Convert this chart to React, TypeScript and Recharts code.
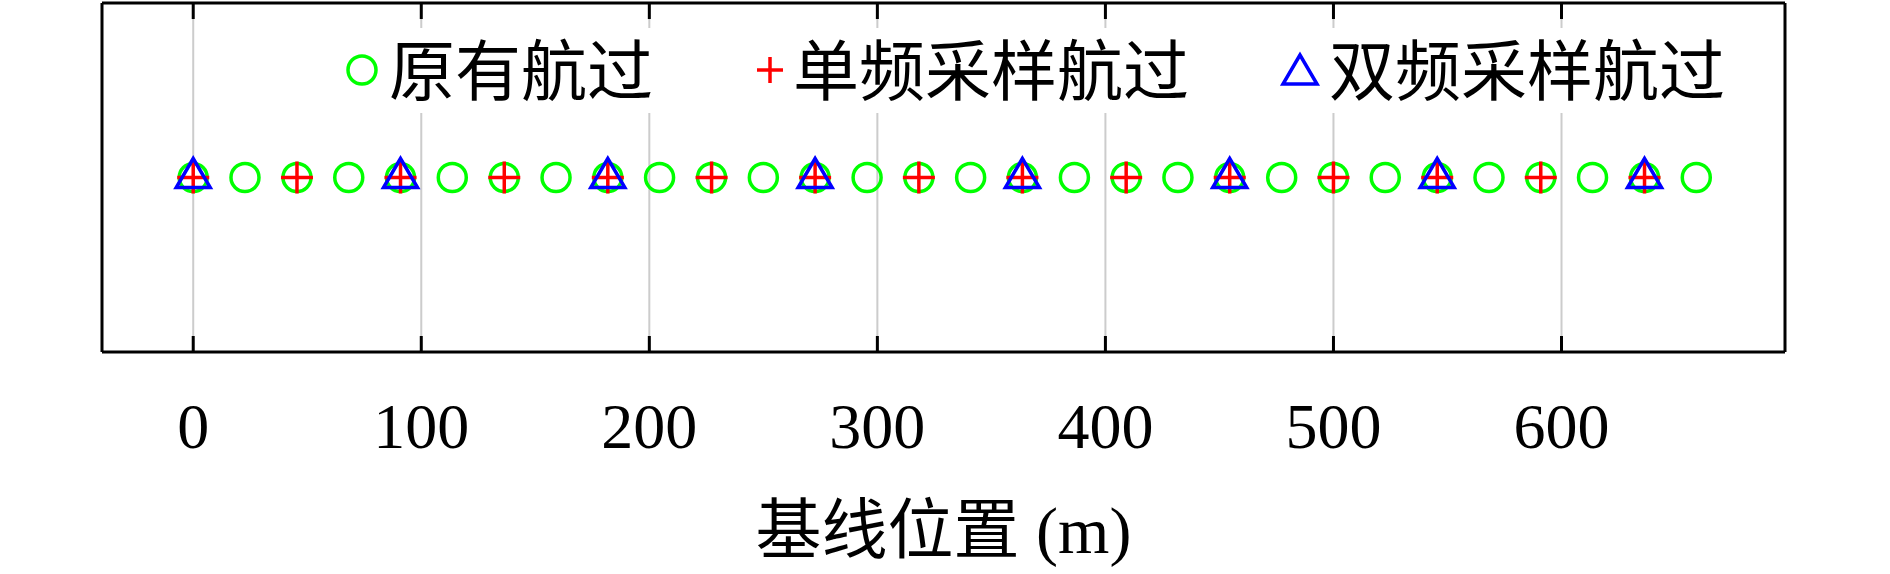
import { ScatterChart, Scatter, XAxis, YAxis, CartesianGrid, Legend } from 'recharts';

// 航过位置 (m)
const originalX = [0, 22.7, 45.5, 68.2, 90.9, 113.6, 136.4, 159.1, 181.8, 204.5, 227.3, 250.0, 272.7, 295.5, 318.2, 340.9, 363.6, 386.4, 409.1, 431.8, 454.5, 477.3, 500.0, 522.7, 545.5, 568.2, 590.9, 613.6, 636.4, 659.1];
const singleX = [0, 45.5, 90.9, 136.4, 181.8, 227.3, 272.7, 318.2, 363.6, 409.1, 454.5, 500.0, 545.5, 590.9, 636.4];
const dualX = [0, 90.9, 181.8, 272.7, 363.6, 454.5, 545.5, 636.4];
const baselineY = 0;

const xTicks = [0, 100, 200, 300, 400, 500, 600];
const seriesNames = ['原有航过', '单频采样航过', '双频采样航过'];
const axisTitle = '基线位置 (m)';

const originalData = originalX.map((x) => ({ x, y: baselineY }));
const singleData = singleX.map((x) => ({ x, y: baselineY }));
const dualData = dualX.map((x) => ({ x, y: baselineY }));

const FONT = "'Liberation Serif', 'Noto Sans CJK SC', serif";
const GREEN = '#00ff00';
const RED = '#ff0000';
const BLUE = '#0000ff';

const CircleMark = (props: any) => {
    const { cx, cy } = props;
    return <circle cx={cx} cy={cy} r={14} fill="none" stroke={GREEN} strokeWidth={3.5} />;
};

const CrossMark = (props: any) => {
    const { cx, cy } = props;
    const s = props.arm ?? 16;
    return (
        <g stroke={RED} strokeWidth={3.5}>
            <line x1={cx - s} y1={cy} x2={cx + s} y2={cy} />
            <line x1={cx} y1={cy - s} x2={cx} y2={cy + s} />
        </g>
    );
};

const TriangleMark = (props: any) => {
    const { cx, cy } = props;
    return (
        <polygon
            points={`${cx},${cy - 19} ${cx - 17},${cy + 10} ${cx + 17},${cy + 10}`}
            fill="none"
            stroke={BLUE}
            strokeWidth={3.5}
            strokeLinejoin="miter"
        />
    );
};

const BottomTick = (props: any) => {
    const { x, y, payload } = props;
    return (
        <g>
            <line x1={x} y1={y} x2={x} y2={y - 16} stroke="#000" strokeWidth={3} />
            <text x={x} y={y + 96} textAnchor="middle" fontFamily={FONT} fontSize={64} fill="#000">
                {payload.value}
            </text>
        </g>
    );
};

const TopTick = (props: any) => {
    const { x, y } = props;
    return <line x1={x} y1={y} x2={x} y2={y + 16} stroke="#000" strokeWidth={3} />;
};

const LegendContent = () => (
    <svg width={1430} height={85} style={{ display: 'block', background: '#fff' }}>
        <CircleMark cx={32} cy={42} />
        <text x={59} y={67} fontFamily={FONT} fontSize={66} fill="#000">{seriesNames[0]}</text>
        <CrossMark cx={440} cy={42} arm={13} />
        <text x={463} y={67} fontFamily={FONT} fontSize={66} fill="#000">{seriesNames[1]}</text>
        <TriangleMark cx={970} cy={46} />
        <text x={999} y={67} fontFamily={FONT} fontSize={66} fill="#000">{seriesNames[2]}</text>
    </svg>
);

export default function App() {
    return (
        <div style={{ position: 'absolute', left: 0, top: 0, width: 1890, height: 574, background: '#fff' }}>
            <ScatterChart width={1890} height={574} margin={{ top: 2, right: 104, bottom: 221, left: 101 }}>
                <CartesianGrid horizontal={false} vertical stroke="#cccccc" strokeWidth={2} />
                <XAxis
                    type="number"
                    dataKey="x"
                    domain={[-40, 698]}
                    ticks={xTicks}
                    allowDataOverflow
                    height={1}
                    tickSize={0}
                    tickMargin={0}
                    tickLine={false}
                    axisLine={{ stroke: '#000', strokeWidth: 3 }}
                    tick={<BottomTick />}
                    label={{ value: axisTitle, position: 'bottom', offset: 153, fontFamily: FONT, fontSize: 66, fill: '#000' }}
                />
                <XAxis
                    xAxisId="top"
                    orientation="top"
                    type="number"
                    dataKey="x"
                    domain={[-40, 698]}
                    ticks={xTicks}
                    allowDataOverflow
                    height={1}
                    tickSize={0}
                    tickMargin={0}
                    tickLine={false}
                    axisLine={{ stroke: '#000', strokeWidth: 3 }}
                    tick={<TopTick />}
                />
                <YAxis type="number" dataKey="y" domain={[-1, 1]} width={1} tick={false} tickLine={false} axisLine={{ stroke: '#000', strokeWidth: 3 }} />
                <YAxis yAxisId="right" orientation="right" type="number" domain={[-1, 1]} width={1} tick={false} tickLine={false} axisLine={{ stroke: '#000', strokeWidth: 3 }} />
                <Legend
                    layout="horizontal"
                    verticalAlign="middle"
                    align="center"
                    content={<LegendContent />}
                    wrapperStyle={{ left: 330, top: 28, width: 1430, height: 85 }}
                />
                <Scatter name={seriesNames[0]} data={originalData} shape={<CircleMark />} isAnimationActive={false} />
                <Scatter name={seriesNames[1]} data={singleData} shape={<CrossMark />} isAnimationActive={false} />
                <Scatter name={seriesNames[2]} data={dualData} shape={<TriangleMark />} isAnimationActive={false} />
            </ScatterChart>
        </div>
    );
}
